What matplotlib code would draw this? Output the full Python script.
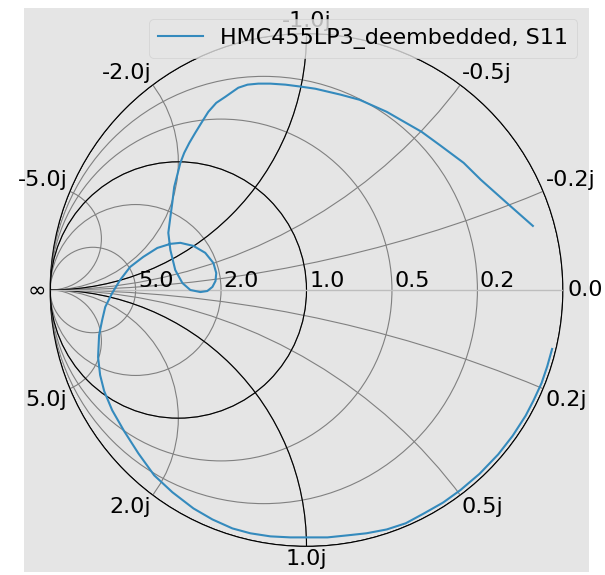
"""
Admittance-style Smith chart of S11 for the de-embedded HMC455LP3.
Grid drawn the way skrf's smith() does it (flipped 'y' chart with labels).
"""
import numpy as np
import matplotlib
matplotlib.use("Agg")
import matplotlib.pyplot as plt
from matplotlib.patches import Circle

S11_RE = [0.883, 0.781, 0.680, 0.613, 0.523, 0.449, 0.367, 0.313, 0.250,
          0.207, 0.133, 0.086, 0.035, -0.020, -0.082, -0.141, -0.188, -0.230,
          -0.266, -0.289, -0.316, -0.352, -0.383, -0.410, -0.434, -0.457,
          -0.477, -0.492, -0.504, -0.516, -0.523, -0.531, -0.539,
          -0.531, -0.512, -0.484, -0.453, -0.414, -0.387, -0.367, -0.355,
          -0.352, -0.363, -0.395, -0.441, -0.492, -0.531, -0.582, -0.637,
          -0.688, -0.727, -0.758, -0.785, -0.797, -0.809, -0.813, -0.805,
          -0.789, -0.758, -0.711, -0.656, -0.594, -0.523, -0.441, -0.367,
          -0.289, -0.219, -0.141, -0.063, 0.004, 0.082, 0.160, 0.234, 0.313,
          0.387, 0.459, 0.533, 0.601, 0.675, 0.748, 0.804, 0.855, 0.886,
          0.917, 0.939, 0.958]
S11_IM = [0.250, 0.340, 0.430, 0.496, 0.563, 0.617, 0.664, 0.695, 0.723,
          0.742, 0.762, 0.773, 0.785, 0.793, 0.801, 0.805, 0.805, 0.801,
          0.789, 0.773, 0.754, 0.730, 0.695, 0.652, 0.613, 0.574,
          0.535, 0.496, 0.449, 0.402, 0.344, 0.285, 0.223,
          0.156, 0.078, 0.027, 0.000, -0.008, -0.004, 0.012, 0.035,
          0.066, 0.105, 0.145, 0.172, 0.184, 0.180, 0.164, 0.129,
          0.090, 0.039, -0.012, -0.066, -0.117, -0.176, -0.262, -0.332,
          -0.395, -0.469, -0.551, -0.637, -0.723, -0.789, -0.852, -0.895,
          -0.930, -0.949, -0.961, -0.965, -0.965, -0.965, -0.957, -0.949,
          -0.934, -0.910, -0.871, -0.829, -0.780, -0.717, -0.641, -0.569,
          -0.490, -0.430, -0.363, -0.298, -0.230]
TRACE_LABEL = 'HMC455LP3_deembedded, S11'

# grid values (same lists skrf uses when draw_labels=True)
R_LIGHT = [0.2, 0.5, 1.0, 2.0, 5.0]
X_LIGHT = [0.2, 0.5, 1.0, 2.0, 5.0, -0.2, -0.5, -1.0, -2.0, -5.0]
R_HEAVY = [0, 1]
X_HEAVY = [1, -1]

FLIP = -1          # admittance chart -> mirrored
FS = 16
LW = 0.8

plt.style.use('ggplot')
fig = plt.figure(figsize=(6.05, 5.75), dpi=100)
ax = fig.add_axes([24 / 605, 3 / 575, 565 / 605, 564 / 575])

clipc = Circle((0, 0), 1, ec='k', fc='none', lw=LW)
ax.add_patch(clipc)

contours = []
for r in R_LIGHT:
    contours.append(Circle((FLIP * r / (1. + r), 0), 1. / (1 + r),
                           ec='grey', fc='none', lw=LW))
for x in X_LIGHT:
    contours.append(Circle((FLIP, 1. / x), 1. / abs(x),
                           ec='grey', fc='none', lw=LW))
for r in R_HEAVY:
    contours.append(Circle((FLIP * r / (1. + r), 0), 1. / (1 + r),
                           ec='black', fc='none', lw=LW))
for x in X_HEAVY:
    contours.append(Circle((FLIP, 1. / x), 1. / abs(x),
                           ec='black', fc='none', lw=LW))
for c in contours:
    p = ax.add_patch(c)
    p.set_clip_path(clipc)

ax.axhline(0, color='#bdbdbd', lw=1.0, clip_path=clipc)
ax.axvline(FLIP, color='k', lw=LW, clip_path=clipc)

# real-axis labels
for v in R_LIGHT:
    rho = (v - 1) / (v + 1) - FLIP * 0.01
    ax.annotate(f'{1 / v:.1f}', xy=(rho, 0.01), ha='left', va='baseline',
                fontsize=FS, color='k')

# imaginary labels around the rim
for v in X_LIGHT:
    s = (1j * v - 1) / (1j * v + 1) * 1.01
    rx, ry = s.real, s.imag * FLIP
    if abs(v) == 1.0:
        ha = 'center'
    elif rx < 0:
        ha = 'right'
    else:
        ha = 'left'
    va = 'top' if ry < 0 else 'bottom'
    ax.annotate(f'{1 / v:.1f}j', xy=(rx, ry), ha=ha, va=va,
                fontsize=FS, color='k')

ax.annotate('0.0', xy=(1.02, 0), ha='left', va='center', fontsize=FS, color='k')
ax.annotate(r'$\infty$', xy=(-1.02, 0), ha='right', va='center', fontsize=FS,
            color='k')

ax.plot(S11_RE, S11_IM, color='#348ABD', lw=1.5, label=TRACE_LABEL)

ax.set_xlim(-1.1, 1.1)
ax.set_ylim(-1.1, 1.1)
ax.set_aspect('equal')
ax.grid(False)
ax.set_xticks([])
ax.set_yticks([])
for sp in ax.spines.values():
    sp.set_color('none')

ax.legend(loc='upper right', fontsize=FS)

fig.savefig('out.png', dpi=100)
